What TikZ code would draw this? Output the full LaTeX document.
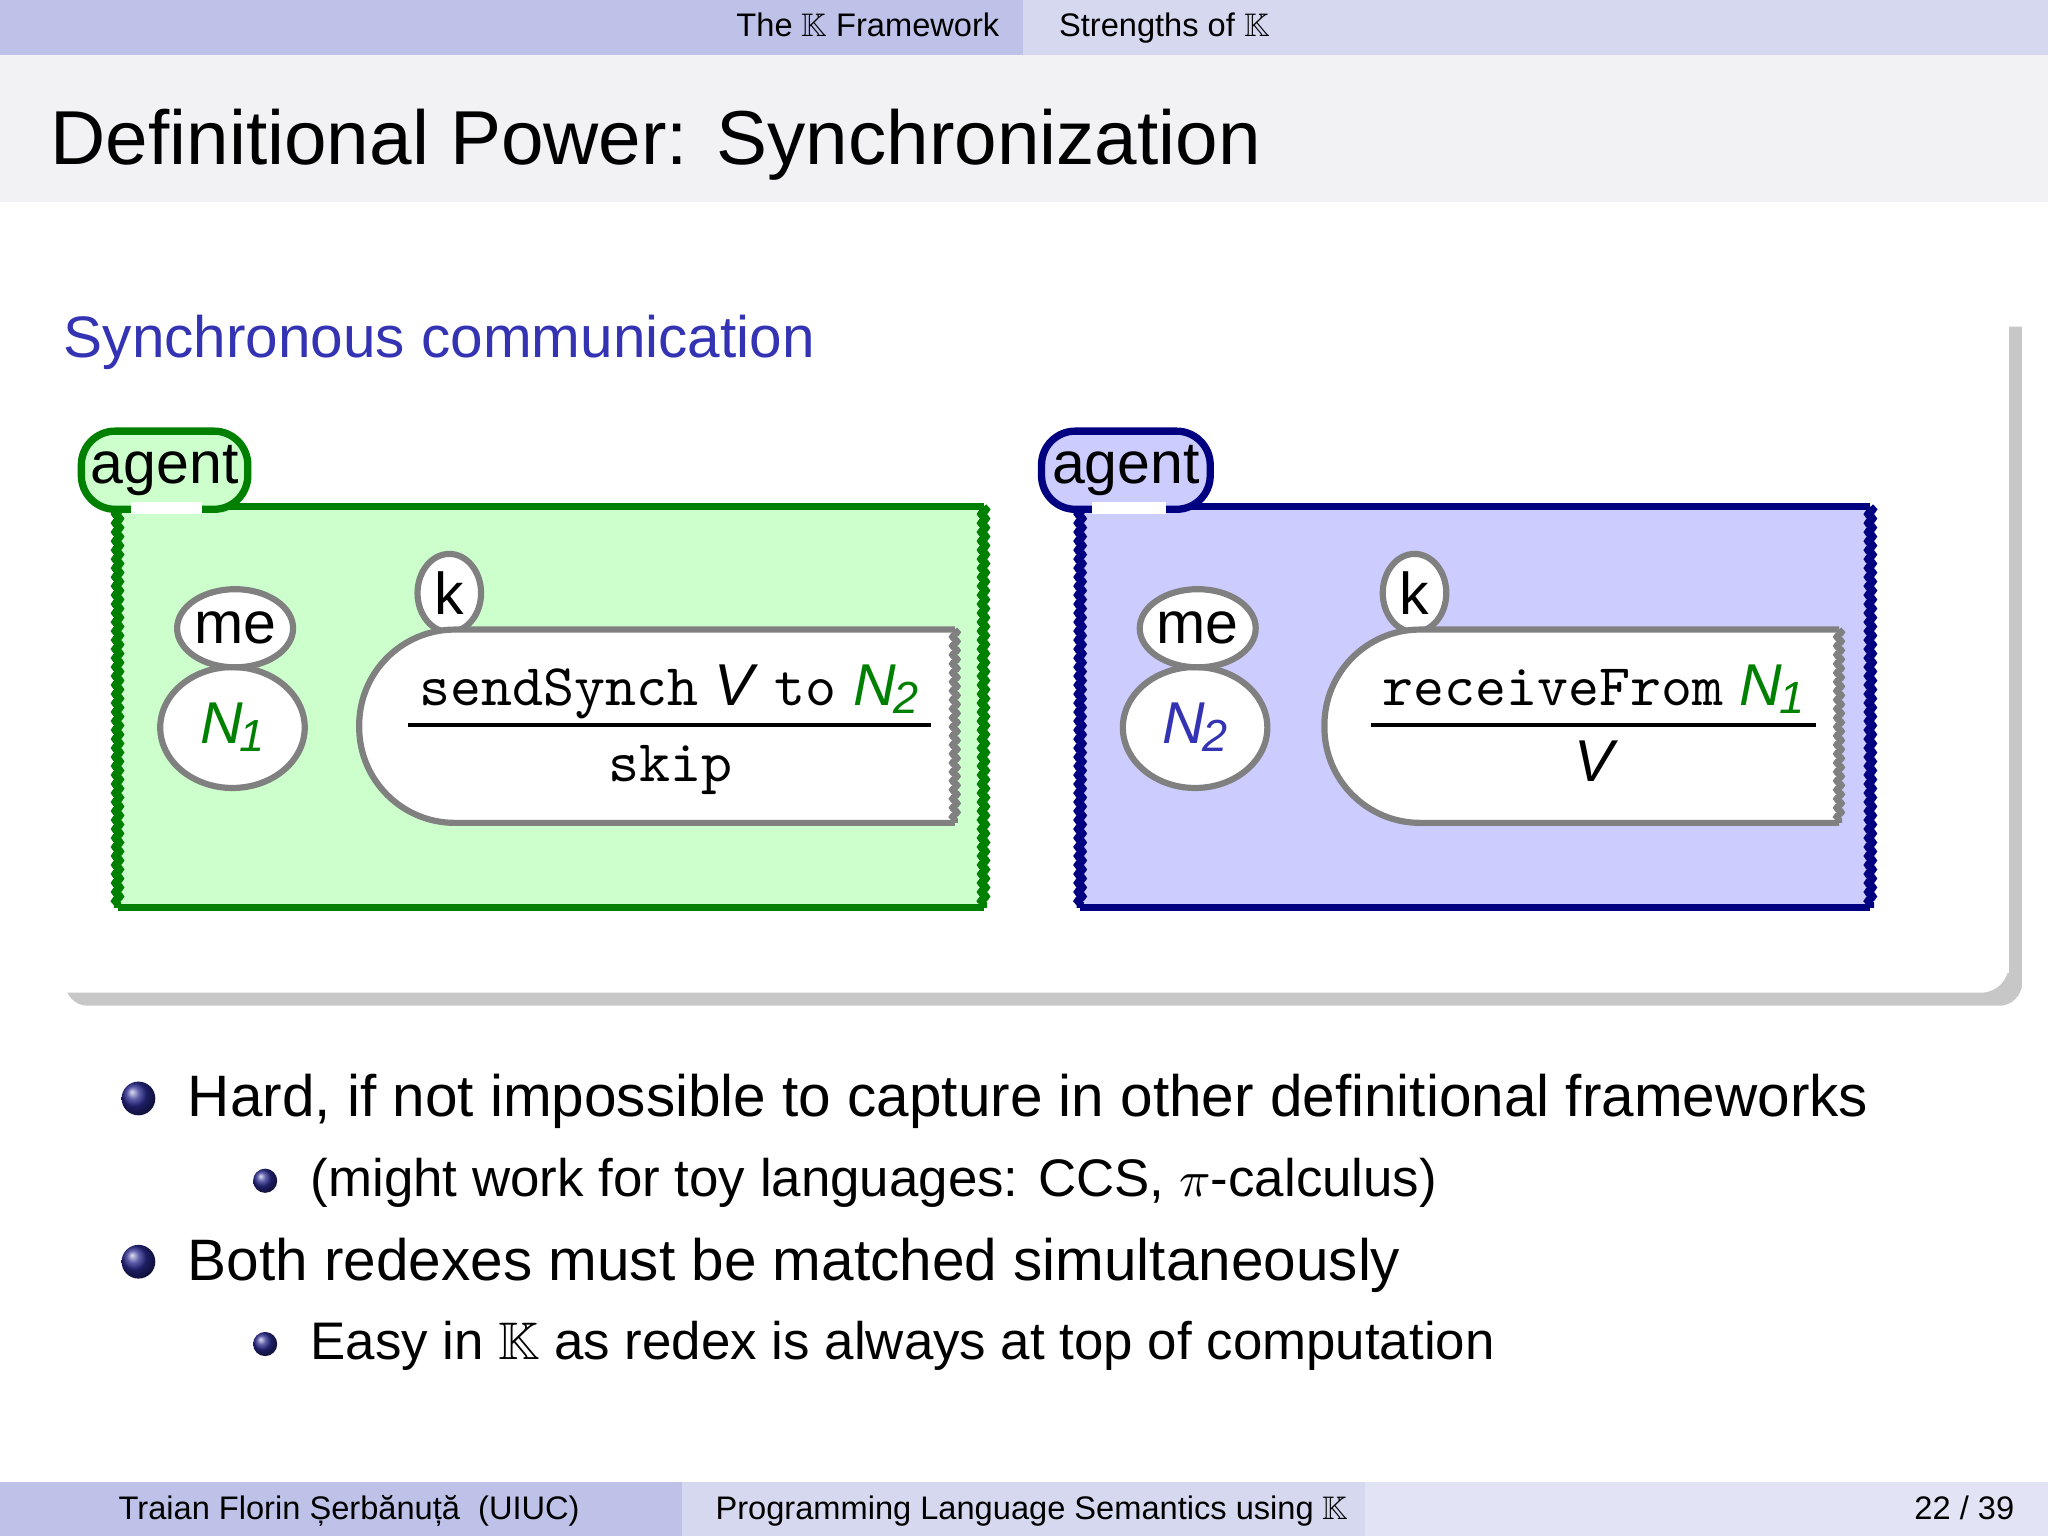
\documentclass[tikz,border=0pt]{standalone}
\usepackage{fontspec}
\setmainfont{Liberation Sans}
\usepackage{amssymb}
\usetikzlibrary{shapes.geometric,decorations.pathmorphing,shadows}
\definecolor{navA}{RGB}{190,194,232}
\definecolor{navB}{RGB}{214,216,240}
\definecolor{titlebg}{RGB}{242,242,244}
\definecolor{blk}{RGB}{51,51,179}
\definecolor{gfill}{RGB}{204,255,204}
\definecolor{gline}{RGB}{0,128,0}
\definecolor{bfill}{RGB}{204,204,255}
\definecolor{bline}{RGB}{0,0,128}
\definecolor{cgray}{RGB}{128,128,128}
\newcommand{\fs}[1]{\fontsize{#1}{#1}\selectfont}
\newcommand{\KK}{$\mathbb{K}$}
\newcommand{\Nsub}[1]{\textit{N}\kern-0.5pt\raisebox{-0.25ex}{\fs{8}\textit{#1}}}
\tikzset{
  x=0.0081633cm, y=-0.0081633cm,
  tab/.style={draw=#1, line width=1.3pt, rounded corners=6pt, inner sep=0pt, font=\fs{10.5}},
  cell/.style={draw=cgray, line width=1.1pt, fill=white, ellipse, inner sep=0pt, font=\fs{10.5}},
  rag/.style={decorate, decoration={snake, amplitude=0.45pt, segment length=1.6pt}},
  txt/.style={anchor=base west, inner sep=0pt},
  ball/.style={circle, inner sep=0pt, minimum size=#1, ball color=blk!80!black, shading=ball}
}
\begin{document}
\begin{tikzpicture}
\useasboundingbox (0,0) rectangle (1568,1176);
% headline
\fill[navA] (0,0) rectangle (783,42);
\fill[navB] (783,0) rectangle (1568,42);
\node[txt, font=\fs{5.8}] (nav1) at (563,28) {The \KK{} Framework};
\node[txt, font=\fs{5.8}] (nav2) at (810,28) {Strengths of \KK};
% title
\fill[titlebg] (0,42) rectangle (1568,155);
\node[txt, font=\fs{13.6}] (title) at (38,126) {Definitional Power: Synchronization};
% block with shadow
\fill[black!22] (50,250) -- (1548,250) -- (1548,758) [rounded corners=4pt] -- (1548,770) -- (50,770) [sharp corners] -- cycle;
\fill[white] (40,240) -- (1538,240) [rounded corners=5pt] -- (1538,760) [sharp corners] -- (40,760) -- cycle;
\fill[white] (0,155) rectangle (1538,745);
\node[txt, font=\fs{10.4}, text=blk] (blocktitle) at (48,274) {Synchronous communication};
% ---- green agent
\fill[gfill] (90,388) rectangle (753,695);
\draw[gline, line width=1.3pt] (157,388) -- (753,388);
\draw[gline, line width=1.3pt] (90,695) -- (753,695);
\draw[gline, line width=1.3pt, rag] (90,388) -- (90,695);
\draw[gline, line width=1.3pt, rag] (753,388) -- (753,695);
\node[tab=gline, fill=gfill, minimum width=29.6pt, minimum height=13.9pt] (ag1) at (126,360) {agent};
\draw[white, line width=2pt] (100,389) -- (155,389);
\node[cell, minimum width=25.7pt, minimum height=21.5pt] (n1) at (178,557) {\textcolor{gline}{\Nsub{1}}};
\node[cell, minimum width=18pt, minimum height=13.9pt] (me1) at (180,481) {me};
\node[cell, minimum width=11.3pt, minimum height=13.9pt] (k1) at (344,454) {k};
\fill[white, draw=cgray, line width=1.1pt, rounded corners=17pt] (731,482) -- (275,482) -- (275,630) -- (731,630);
\draw[cgray, line width=1.1pt, rag] (731,482) -- (731,630);
\node[font=\fs{10.5}, inner sep=0pt, anchor=base] (s1) at (512,540) {\texttt{sendSynch} \textit{V} \texttt{to} \textcolor{gline}{\Nsub{2}}};
\draw[line width=0.6pt] (312,555) -- (713,555);
\node[font=\fs{10.5}, inner sep=0pt, anchor=base] (s2) at (513,598) {\texttt{skip}};
% ---- blue agent
\fill[bfill] (827,388) rectangle (1432,695);
\draw[bline, line width=1.3pt] (895,388) -- (1432,388);
\draw[bline, line width=1.3pt] (827,695) -- (1432,695);
\draw[bline, line width=1.3pt, rag] (827,388) -- (827,695);
\draw[bline, line width=1.3pt, rag] (1432,388) -- (1432,695);
\node[tab=bline, fill=bfill, minimum width=30pt, minimum height=13.9pt] (ag2) at (862,360) {agent};
\draw[white, line width=2pt] (836,389) -- (893,389);
\node[cell, minimum width=25.7pt, minimum height=21.5pt] (n2) at (915,557) {\textcolor{blk}{\Nsub{2}}};
\node[cell, minimum width=18pt, minimum height=13.9pt] (me2) at (917,481) {me};
\node[cell, minimum width=11.3pt, minimum height=13.9pt] (k2) at (1083,454) {k};
\fill[white, draw=cgray, line width=1.1pt, rounded corners=17pt] (1408,482) -- (1014,482) -- (1014,630) -- (1408,630);
\draw[cgray, line width=1.1pt, rag] (1408,482) -- (1408,630);
\node[font=\fs{10.5}, inner sep=0pt, anchor=base] (r1) at (1220,540) {\texttt{receiveFrom} \textcolor{gline}{\Nsub{1}}};
\draw[line width=0.6pt] (1050,555) -- (1390,555);
\node[font=\fs{10.5}, inner sep=0pt, anchor=base] (r2) at (1222,598) {\textit{V}};
% ---- bullets
\node[ball=6pt] (b1) at (106,841) {};
\node[txt, font=\fs{10.4}] (t1) at (143,855) {Hard, if not impossible to capture in other definitional frameworks};
\node[ball=4.3pt] (b2) at (203,904) {};
\node[txt, font=\fs{9.4}] (t2) at (237,916) {(might work for toy languages: CCS, $\pi$-calculus)};
\node[ball=6pt] (b3) at (106,966) {};
\node[txt, font=\fs{10.4}] (t3) at (143,980) {Both redexes must be matched simultaneously};
\node[ball=4.3pt] (b4) at (203,1029) {};
\node[txt, font=\fs{9.4}] (t4) at (237,1041) {Easy in \KK{} as redex is always at top of computation};
% footer
\fill[navA] (0,1135) rectangle (522,1176);
\fill[navB] (522,1135) rectangle (1045,1176);
\fill[navB!70!white] (1045,1135) rectangle (1568,1176);
\node[txt, font=\fs{5.8}] (f1) at (90,1163) {Traian Florin Șerbănuță\ \ (UIUC)};
\node[txt, font=\fs{5.8}] (f2) at (547,1163) {Programming Language Semantics using \KK};
\node[txt, font=\fs{5.8}, anchor=base east] (f3) at (1543,1163) {22 / 39};
\end{tikzpicture}
\end{document}
